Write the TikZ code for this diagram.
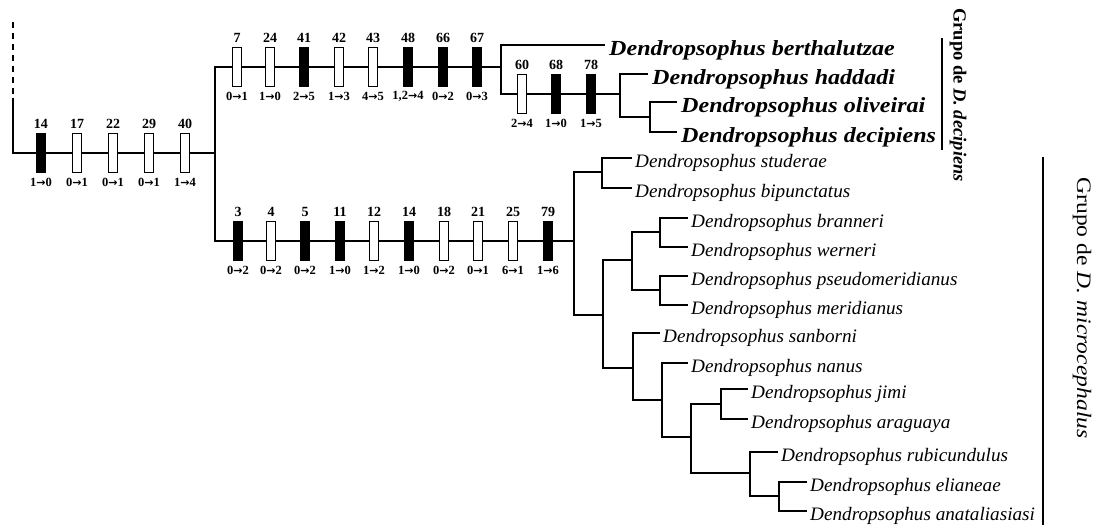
\documentclass[tikz,border=0pt]{standalone}
\usepackage{fontspec}
\setmainfont{Liberation Serif}
\newfontfamily\spfont[FakeStretch=1.01]{Liberation Serif}
\newfontfamily\spbfont[FakeStretch=1.12]{Liberation Serif}
\newfontfamily\grpfont[FakeStretch=1.15]{Liberation Serif}
\newfontfamily\arrfont{DejaVu Sans}
\newcommand\arr{{\arrfont\bfseries\fontsize{11}{11}\selectfont →}}
\newcommand\chr[7]{%
  \node[#7] (#1) at (#2,#3) {};
  \node[numlab] (#1n) at ([yshift=9pt]#1.north) {#4};
  \node[chglab] (#1c) at ([yshift=-9pt]#1.south) {#5\arr#6};}
\begin{document}
\begin{tikzpicture}[x=1pt,y=-1pt,
  tree/.style={line width=1.8pt},
  cbox/.style={draw, line width=1.3pt, minimum width=9pt, minimum height=39pt, inner sep=0pt, fill=white},
  cboxb/.style={cbox, fill=black},
  numlab/.style={font=\fontsize{14}{14}\selectfont\bfseries, inner sep=0pt},
  chglab/.style={font=\fontsize{12.5}{12.5}\selectfont\bfseries, inner sep=0pt},
  sp/.style={anchor=west, inner xsep=3pt, inner ysep=0pt, text height=18pt, text depth=0pt, font=\spfont\fontsize{19}{19}\selectfont\itshape},
  spb/.style={anchor=west, inner xsep=4pt, inner ysep=0pt, text height=21pt, text depth=0pt, font=\spbfont\fontsize{21.5}{21.5}\selectfont\bfseries\itshape},
  grp/.style={draw, line width=2.2pt},
]
\useasboundingbox (0,0) rectangle (1103,530);

% ---------- internal nodes ----------
\coordinate (r0) at (13,22);
\coordinate (r1) at (13,98);
\coordinate (r) at (13,153);
\coordinate (n1) at (215,153);
\coordinate (u) at (501,67);
\coordinate (u2) at (620,94);
\coordinate (u3) at (650,117);
\coordinate (l) at (574,241);
\coordinate (a) at (602,172);
\coordinate (b) at (603,315);
\coordinate (c) at (632,260);
\coordinate (d) at (660,232);
\coordinate (e) at (660,290);
\coordinate (f) at (633,368);
\coordinate (g) at (662,400);
\coordinate (h) at (691,437);
\coordinate (i) at (721,404);
\coordinate (j) at (750,473);
\coordinate (k) at (779,496);

% ---------- leaves ----------
\node[spb] (berth) at (605,45) {Dendropsophus berthalutzae};
\node[spb] (hadd) at (648,74) {Dendropsophus haddadi};
\node[spb] (oliv) at (677,102) {Dendropsophus oliveirai};
\node[spb] (deci) at (677,132) {Dendropsophus decipiens};
\node[sp] (stud) at (632,158) {Dendropsophus studerae};
\node[sp] (bipu) at (632,188) {Dendropsophus bipunctatus};
\node[sp] (bran) at (688,218) {Dendropsophus branneri};
\node[sp] (wern) at (688,247) {Dendropsophus werneri};
\node[sp] (pseu) at (688,276) {Dendropsophus pseudomeridianus};
\node[sp] (meri) at (688,305) {Dendropsophus meridianus};
\node[sp] (sanb) at (660,333) {Dendropsophus sanborni};
\node[sp] (nanu) at (688,363) {Dendropsophus nanus};
\node[sp] (jimi) at (748,389) {Dendropsophus jimi};
\node[sp] (arag) at (748,419) {Dendropsophus araguaya};
\node[sp] (rubi) at (778,452) {Dendropsophus rubicundulus};
\node[sp] (elia) at (807,482) {Dendropsophus elianeae};
\node[sp] (anat) at (807,511) {Dendropsophus anataliasiasi};

% ---------- branches ----------
\draw[tree, dash pattern=on 6pt off 5pt] (r0) -- (r1);
\draw[tree] (r1) -- (r) -- (n1);
\draw[tree] (u) -| (n1) |- (l);
\draw[tree] (berth.west) -| (u) |- (u2);
\draw[tree] (hadd.west) -| (u2) |- (u3);
\draw[tree] (oliv.west) -| (u3) |- (deci.west);
\draw[tree] (a) -| (l) |- (b);
\draw[tree] (stud.west) -| (a) |- (bipu.west);
\draw[tree] (c) -| (b) |- (f);
\draw[tree] (d) -| (c) |- (e);
\draw[tree] (bran.west) -| (d) |- (wern.west);
\draw[tree] (pseu.west) -| (e) |- (meri.west);
\draw[tree] (sanb.west) -| (f) |- (g);
\draw[tree] (nanu.west) -| (g) |- (h);
\draw[tree] (i) -| (h) |- (j);
\draw[tree] (jimi.west) -| (i) |- (arag.west);
\draw[tree] (rubi.west) -| (j) |- (k);
\draw[tree] (elia.west) -| (k) |- (anat.west);

% ---------- characters ----------
\chr{c14}{41}{153}{14}{1}{0}{cboxb}
\chr{c17}{77}{153}{17}{0}{1}{cbox}
\chr{c22}{113}{153}{22}{0}{1}{cbox}
\chr{c29}{149}{153}{29}{0}{1}{cbox}
\chr{c40}{185}{153}{40}{1}{4}{cbox}

\chr{d7}{237}{67}{7}{0}{1}{cbox}
\chr{d24}{270}{67}{24}{1}{0}{cbox}
\chr{d41}{304}{67}{41}{2}{5}{cboxb}
\chr{d42}{339}{67}{42}{1}{3}{cbox}
\chr{d43}{373}{67}{43}{4}{5}{cbox}
\chr{d48}{408}{67}{48}{1,2}{4}{cboxb}
\chr{d66}{443}{67}{66}{0}{2}{cboxb}
\chr{d67}{477}{67}{67}{0}{3}{cboxb}

\chr{e60}{522}{94}{60}{2}{4}{cbox}
\chr{e68}{556}{94}{68}{1}{0}{cboxb}
\chr{e78}{591}{94}{78}{1}{5}{cboxb}

\chr{m3}{238}{241}{3}{0}{2}{cboxb}
\chr{m4}{271}{241}{4}{0}{2}{cbox}
\chr{m5}{305}{241}{5}{0}{2}{cboxb}
\chr{m11}{340}{241}{11}{1}{0}{cboxb}
\chr{m12}{374}{241}{12}{1}{2}{cbox}
\chr{m14}{409}{241}{14}{1}{0}{cboxb}
\chr{m18}{444}{241}{18}{0}{2}{cbox}
\chr{m21}{478}{241}{21}{0}{1}{cbox}
\chr{m25}{513}{241}{25}{6}{1}{cbox}
\chr{m79}{548}{241}{79}{1}{6}{cboxb}

% ---------- group labels ----------
\coordinate (g1a) at (942,38);
\coordinate (g1b) at (942,150);
\draw[grp] (g1a) -- (g1b);
\node[rotate=-90, inner sep=0pt, font=\fontsize{18.5}{18.5}\selectfont\bfseries] (grp1) at (958,95) {Grupo de \textit{D. decipiens}};
\coordinate (g2a) at (1043,157);
\coordinate (g2b) at (1043,525);
\draw[line width=1.5pt] (g2a) -- (g2b);
\node[rotate=-90, inner sep=0pt, font=\grpfont\fontsize{20.5}{20.5}\selectfont] (grp2) at (1082,308) {Grupo de \textit{D. microcephalus}};
\end{tikzpicture}
\end{document}
